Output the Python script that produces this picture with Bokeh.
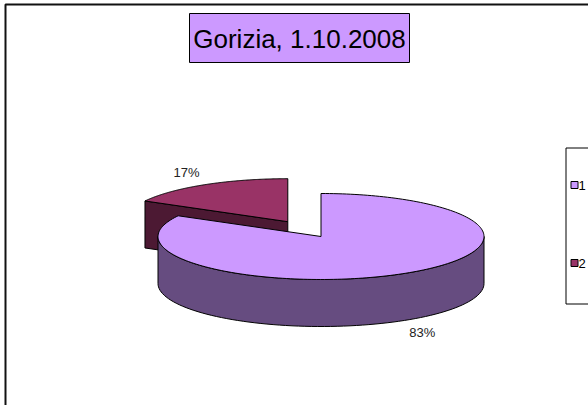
import numpy as np
from bokeh.plotting import figure
from bokeh.models import Range1d, ColumnDataSource
from bokeh.core.properties import value
from bokeh.embed import file_html
from bokeh.resources import INLINE

# ---------------- data ----------------
title_text = "Gorizia, 1.10.2008"
categories = ["1", "2"]
values = [83, 17]
top_colors = ["#CC99FF", "#993366"]
side_colors = ["#664C80", "#4C1933"]
explode = [0.0, 0.4]

FONT = value("Liberation Sans")

# ---------------- geometry (page pixel space) ----------------
W, H = 588, 405
CX, CY, RX, RY, DEPTH = 320.5, 236.0, 163.0, 43.0, 47.0
LAB_FX, LAB_FY = 1.22, 1.32

p = figure(width=W, height=H, output_backend="svg", toolbar_location=None,
           x_range=Range1d(0, W), y_range=Range1d(H, 0), min_border=0,
           outline_line_color=None, background_fill_color="white",
           border_fill_color="white")
p.axis.visible = False
p.grid.visible = False

# outer chart border (left/top visible)
p.quad(left=[5], right=[W + 200], top=[4], bottom=[H + 200],
       fill_color=None, line_color="#111111", line_width=2)


def pt(theta, ox, oy, dz=0.0):
    t = np.radians(theta)
    return CX + ox + RX * np.cos(t), CY + oy - RY * np.sin(t) + dz


total = float(sum(values))
slices = []
start = 90.0
for i, v in enumerate(values):
    sweep = 360.0 * v / total
    end = start - sweep
    mid = start - sweep / 2
    m = np.radians(mid)
    ox = explode[i] * RX * np.cos(m)
    oy = -explode[i] * RY * np.sin(m)
    slices.append(dict(i=i, start=start, end=end, mid=mid, ox=ox, oy=oy))
    start = end

order = sorted(slices, key=lambda s: -np.sin(np.radians(s["mid"])))

xs, ys, fills = [], [], []
for s in order:
    i, st, en, ox, oy = s["i"], s["start"], s["end"], s["ox"], s["oy"]
    cx, cy = CX + ox, CY + oy
    for phi, nrm in ((st, st + 90.0), (en, en - 90.0)):
        sn = np.sin(np.radians(nrm))
        if sn < -1e-6:
            rx_, ry_ = pt(phi, ox, oy)
            xs.append([cx, rx_, rx_, cx])
            ys.append([cy, ry_, ry_ + DEPTH, cy + DEPTH])
            fills.append(side_colors[i])
    for k in range(-2, 2):
        a0, a1 = -180.0 + 360 * k, 0.0 + 360 * k
        lo, hi = max(en, a0), min(st, a1)
        if hi - lo > 1e-6:
            th = np.linspace(lo, hi, 80)
            tx, ty = pt(th, ox, oy)
            bx, by = pt(th[::-1], ox, oy, DEPTH)
            xs.append(list(tx) + list(bx))
            ys.append(list(ty) + list(by))
            fills.append(side_colors[i])
    th = np.linspace(st, en, 200)
    tx, ty = pt(th, ox, oy)
    xs.append([cx] + list(tx))
    ys.append([cy] + list(ty))
    fills.append(top_colors[i])

p.patches(xs="xs", ys="ys", fill_color="fills", line_color="black", line_width=1,
          source=ColumnDataSource(dict(xs=xs, ys=ys, fills=fills)))

# percentage labels
lx, ly, lt = [], [], []
for s in slices:
    m = np.radians(s["mid"])
    x = CX + s["ox"] + LAB_FX * RX * np.cos(m)
    y = CY + s["oy"] - LAB_FY * RY * np.sin(m) + (DEPTH if np.sin(m) < 0 else 0.0)
    lx.append(x)
    ly.append(y)
    lt.append(f"{round(100 * values[s['i']] / total)}%")
p.text(x=lx, y=ly, text=lt, text_font=FONT, text_font_size="13px",
       text_align="center", text_baseline="middle", text_color="#222222")

# title box
p.quad(left=[189], right=[409], top=[13], bottom=[62], fill_color="#CC99FF",
       line_color="black", line_width=1)
p.text(x=[299], y=[38.5], text=[title_text], text_font=FONT, text_font_size="26px",
       text_align="center", text_baseline="middle", text_color="black")

# legend
LG_L, LG_T, LG_B = 565, 147, 303
p.quad(left=[LG_L + 0.5], right=[W + 100], top=[LG_T + 0.5], bottom=[LG_B + 0.5],
       fill_color="white", line_color="black", line_width=1)
n = len(categories)
leg_y = [LG_T + (LG_B - LG_T) * (j + 0.5) / n - 1.5 for j in range(n)]
p.scatter(x=[LG_L + 9] * n, y=leg_y, marker="square", size=7, fill_color=top_colors,
          line_color="black", line_width=1)
p.text(x=[LG_L + 13] * n, y=leg_y, text=categories, text_font=FONT,
       text_font_size="13px", text_align="left", text_baseline="middle",
       text_color="black")

open("out.html", "w").write(file_html(p, INLINE))
